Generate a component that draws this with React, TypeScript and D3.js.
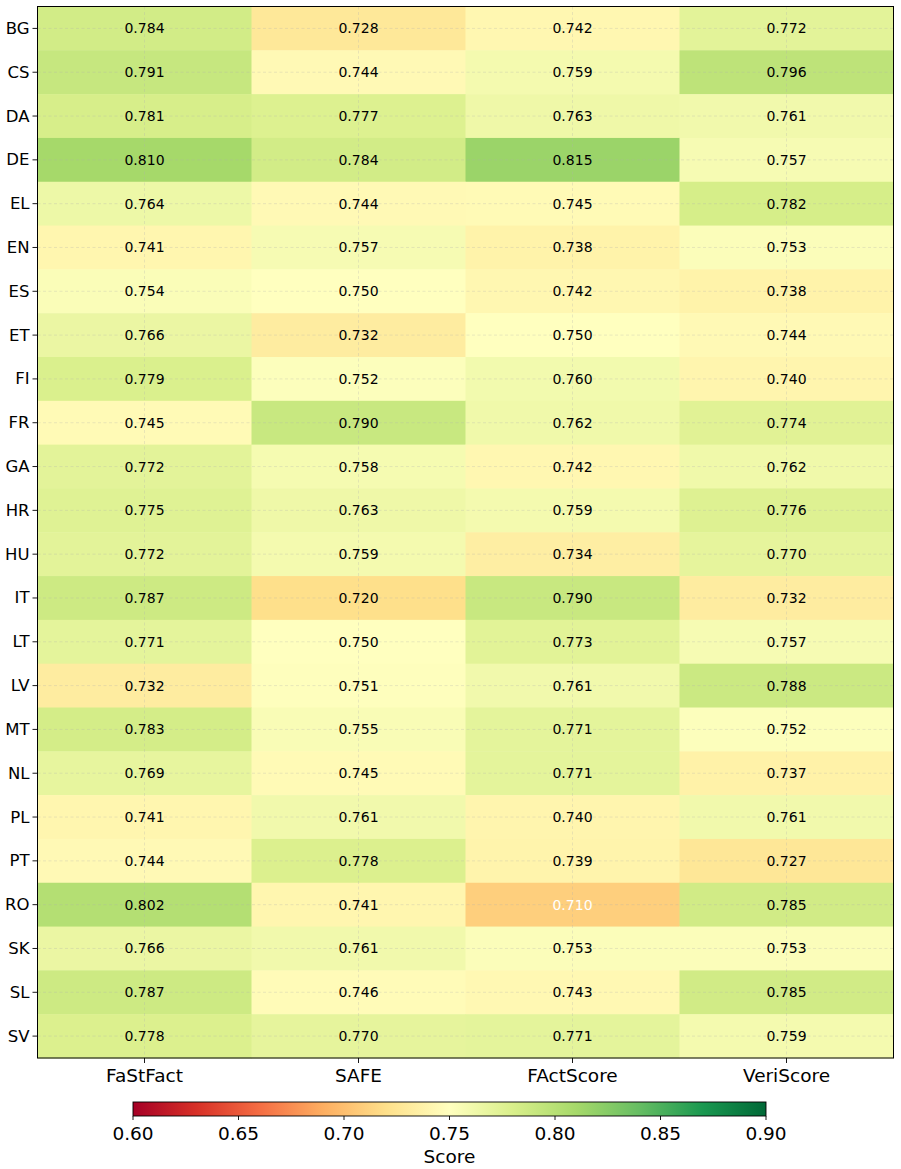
import React, { useEffect, useRef } from "react";
import * as d3 from "d3";

const languages = ["BG", "CS", "DA", "DE", "EL", "EN", "ES", "ET", "FI", "FR", "GA", "HR", "HU", "IT", "LT", "LV", "MT", "NL", "PL", "PT", "RO", "SK", "SL", "SV"];
const methods = ["FaStFact", "SAFE", "FActScore", "VeriScore"];

const fastfact = [0.784, 0.791, 0.781, 0.810, 0.764, 0.741, 0.754, 0.766, 0.779, 0.745, 0.772, 0.775, 0.772, 0.787, 0.771, 0.732, 0.783, 0.769, 0.741, 0.744, 0.802, 0.766, 0.787, 0.778];
const safe = [0.728, 0.744, 0.777, 0.784, 0.744, 0.757, 0.750, 0.732, 0.752, 0.790, 0.758, 0.763, 0.759, 0.720, 0.750, 0.751, 0.755, 0.745, 0.761, 0.778, 0.741, 0.761, 0.746, 0.770];
const factscore = [0.742, 0.759, 0.763, 0.815, 0.745, 0.738, 0.742, 0.750, 0.760, 0.762, 0.742, 0.759, 0.734, 0.790, 0.773, 0.761, 0.771, 0.771, 0.740, 0.739, 0.710, 0.753, 0.743, 0.771];
const veriscore = [0.772, 0.796, 0.761, 0.757, 0.782, 0.753, 0.738, 0.744, 0.740, 0.774, 0.762, 0.776, 0.770, 0.732, 0.757, 0.788, 0.752, 0.737, 0.761, 0.727, 0.785, 0.753, 0.785, 0.759];
const series = [fastfact, safe, factscore, veriscore];

const colorbarTicks = [0.6, 0.65, 0.7, 0.75, 0.8, 0.85, 0.9];

// matplotlib RdYlGn (linear between the 11 brewer stops)
const rdylgn = ["#a50026", "#d73027", "#f46d43", "#fdae61", "#fee08b", "#ffffbf", "#d9ef8b", "#a6d96a", "#66bd63", "#1a9850", "#006837"];

const App = () => {
  const ref = useRef<SVGSVGElement | null>(null);

  useEffect(() => {
    const width = 901, height = 1169;
    const svg = d3.select(ref.current).attr("width", width).attr("height", height)
      .style("font-family", "'DejaVu Sans', sans-serif");
    svg.selectAll("*").remove();

    const left = 37.5, right = 893.5, top = 6.5, bottom = 1058;
    const vmin = 0.6, vmax = 0.9;

    const color = d3.scaleLinear<string>()
      .domain(d3.range(rdylgn.length).map(i => vmin + (vmax - vmin) * i / (rdylgn.length - 1)))
      .range(rdylgn)
      .interpolate(d3.interpolateRgb)
      .clamp(true);

    const x = d3.scaleBand().domain(methods).range([left, right]);
    const y = d3.scaleBand().domain(languages).range([top, bottom]);

    const cells: { lang: string; method: string; v: number }[] = [];
    languages.forEach((lang, i) => {
      methods.forEach((m, j) => cells.push({ lang, method: m, v: series[j][i] }));
    });

    const g = svg.append("g");
    g.selectAll("rect.cell")
      .data(cells)
      .enter().append("rect")
      .attr("class", "cell")
      .attr("x", d => x(d.method)!)
      .attr("y", d => y(d.lang)!)
      .attr("width", x.bandwidth() + 0.5)
      .attr("height", y.bandwidth() + 0.5)
      .attr("fill", d => color(d.v));

    // dashed grid at tick centres
    const grid = svg.append("g")
      .attr("stroke", "#b0b0b0")
      .attr("stroke-opacity", 0.35)
      .attr("stroke-width", 0.8)
      .attr("stroke-dasharray", "3,2.5");
    methods.forEach(m => {
      const cx = x(m)! + x.bandwidth() / 2;
      grid.append("line").attr("x1", cx).attr("x2", cx).attr("y1", top).attr("y2", bottom);
    });
    languages.forEach(l => {
      const cy = y(l)! + y.bandwidth() / 2;
      grid.append("line").attr("x1", left).attr("x2", right).attr("y1", cy).attr("y2", cy);
    });

    // annotations
    svg.append("g").selectAll("text")
      .data(cells)
      .enter().append("text")
      .attr("x", d => x(d.method)! + x.bandwidth() / 2)
      .attr("y", d => y(d.lang)! + y.bandwidth() / 2)
      .attr("text-anchor", "middle")
      .attr("dominant-baseline", "central")
      .style("font-size", "14px")
      .style("fill", d => (d.v < 0.715 ? "#ffffff" : "#000000"))
      .text(d => d.v.toFixed(3));

    // frame
    svg.append("rect")
      .attr("x", left).attr("y", top)
      .attr("width", right - left).attr("height", bottom - top)
      .attr("fill", "none").attr("stroke", "#000").attr("stroke-width", 1);

    // y axis
    const yAxis = svg.append("g");
    languages.forEach(l => {
      const cy = y(l)! + y.bandwidth() / 2;
      yAxis.append("line").attr("x1", left - 5).attr("x2", left).attr("y1", cy).attr("y2", cy)
        .attr("stroke", "#000").attr("stroke-width", 0.9);
      yAxis.append("text").attr("x", left - 8).attr("y", cy)
        .attr("text-anchor", "end").attr("dominant-baseline", "central")
        .style("font-size", "16.5px").text(l);
    });

    // x axis
    const xAxis = svg.append("g");
    methods.forEach(m => {
      const cx = x(m)! + x.bandwidth() / 2;
      xAxis.append("line").attr("x1", cx).attr("x2", cx).attr("y1", bottom).attr("y2", bottom + 5)
        .attr("stroke", "#000").attr("stroke-width", 0.9);
      xAxis.append("text").attr("x", cx).attr("y", bottom + 17)
        .attr("text-anchor", "middle").attr("dominant-baseline", "central")
        .style("font-size", "18.5px").text(m);
    });

    // colorbar
    const cbLeft = 133, cbRight = 766, cbTop = 1102, cbBottom = 1116;
    const cx = d3.scaleLinear().domain([vmin, vmax]).range([cbLeft, cbRight]);
    const defs = svg.append("defs");
    const grad = defs.append("linearGradient").attr("id", "cbgrad")
      .attr("x1", "0%").attr("x2", "100%").attr("y1", "0%").attr("y2", "0%");
    rdylgn.forEach((c, i) => {
      grad.append("stop").attr("offset", `${(i / (rdylgn.length - 1)) * 100}%`).attr("stop-color", c);
    });
    svg.append("rect")
      .attr("x", cbLeft).attr("y", cbTop)
      .attr("width", cbRight - cbLeft).attr("height", cbBottom - cbTop)
      .attr("fill", "url(#cbgrad)")
      .attr("stroke", "#000").attr("stroke-width", 0.9);

    const cbAxis = svg.append("g");
    colorbarTicks.forEach(t => {
      cbAxis.append("line").attr("x1", cx(t)).attr("x2", cx(t)).attr("y1", cbBottom).attr("y2", cbBottom + 4)
        .attr("stroke", "#000").attr("stroke-width", 0.9);
      cbAxis.append("text").attr("x", cx(t)).attr("y", 1133)
        .attr("text-anchor", "middle").attr("dominant-baseline", "central")
        .style("font-size", "18.5px").text(t.toFixed(2));
    });
    svg.append("text").attr("x", (cbLeft + cbRight) / 2).attr("y", 1156)
      .attr("text-anchor", "middle").attr("dominant-baseline", "central")
      .style("font-size", "18.5px").text("Score");
  }, []);

  return (
    <svg ref={ref} style={{ position: "absolute", left: 0, top: 0, display: "block", background: "#fff" }}></svg>
  );
};

export default App;
